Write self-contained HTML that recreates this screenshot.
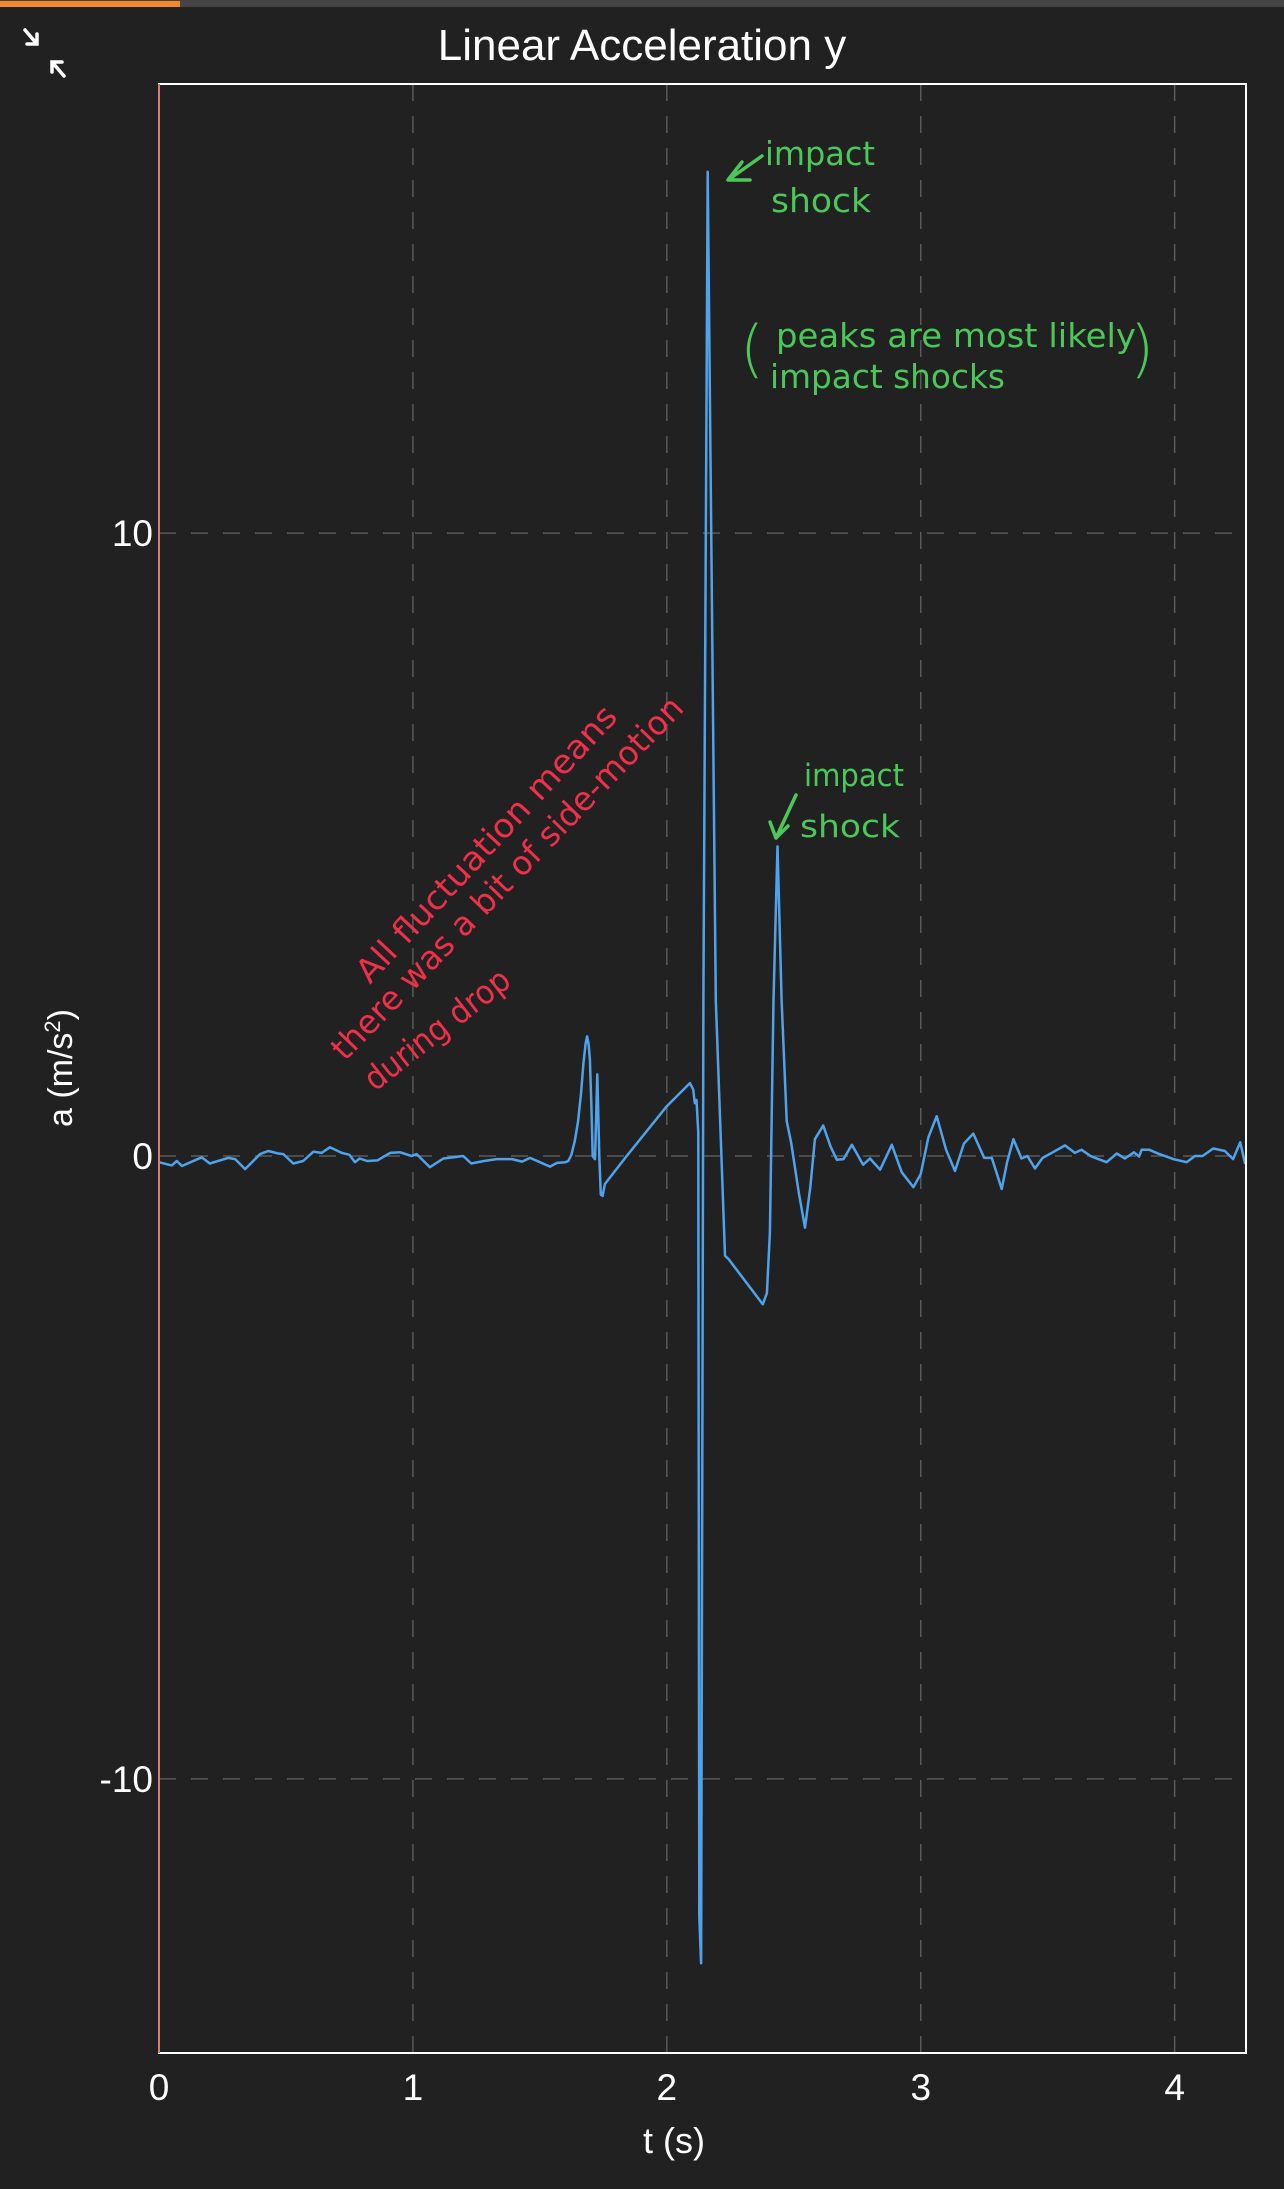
<!DOCTYPE html>
<html><head><meta charset="utf-8">
<style>
html,body{margin:0;padding:0;background:#212121;}
body{width:1284px;height:2189px;overflow:hidden;font-family:"Liberation Sans",sans-serif;}
svg{display:block;}
</style></head>
<body>
<svg id="chart" width="1284" height="2189" viewBox="0 0 1284 2189" xmlns="http://www.w3.org/2000/svg">
  <rect x="0" y="0" width="1284" height="2189" fill="#212121"/>
  <rect x="0" y="0" width="1284" height="7" fill="#454545"/>
  <rect x="0" y="1" width="180" height="6" fill="#f08a2c"/>
  <g stroke="#ffffff" stroke-width="3.5" fill="none" stroke-linecap="round">
    <path d="M25 30 L37 44 M37 34 L37 44 L27 44"/>
    <path d="M64 76 L52 62 M52 72 L52 62 L62 62"/>
  </g>
  <text x="642" y="60" text-anchor="middle" font-size="44" fill="#ffffff">Linear Acceleration y</text>
  <g id="grid"></g>
  <g id="ticks"></g>
  <g id="series"></g>
  <rect x="159" y="84" width="1087" height="1969" fill="none" stroke="#ffffff" stroke-width="2"/>
  <line x1="159" y1="84" x2="159" y2="2053" stroke="#e07a6a" stroke-width="2"/>
  <text x="674" y="2153" text-anchor="middle" font-size="36" fill="#ffffff">t (s)</text>
  <text transform="translate(72,1068) rotate(-90)" text-anchor="middle" font-size="34" fill="#ffffff">a (m/s<tspan font-size="22" dy="-12">2</tspan><tspan dy="12">)</tspan></text>

  <g fill="#4cc85a" font-family="'DejaVu Sans','Liberation Sans',sans-serif">
    <path d="M762 156 L728 180 M728 180 L742 162 M728 180 L750 180" stroke="#4cc85a" stroke-width="3.5" fill="none" stroke-linecap="round"/>
    <text x="765" y="165" font-size="33" textLength="110" lengthAdjust="spacingAndGlyphs">impact</text>
    <text x="771" y="212" font-size="33" textLength="100" lengthAdjust="spacingAndGlyphs">shock</text>
  </g>
  <g fill="#4cc85a" font-family="'DejaVu Sans','Liberation Sans',sans-serif">
    <text x="740" y="370" font-size="62" font-weight="300">(</text>
    <text x="776" y="347" font-size="33" textLength="360" lengthAdjust="spacingAndGlyphs">peaks are most likely</text>
    <text x="1130" y="370" font-size="62" font-weight="300">)</text>
    <text x="770" y="388" font-size="33" textLength="235" lengthAdjust="spacingAndGlyphs">impact shocks</text>
  </g>
  <g fill="#4cc85a" font-family="'DejaVu Sans','Liberation Sans',sans-serif">
    <path d="M796 795 L776 838 M776 838 L770 822 M776 838 L788 826" stroke="#4cc85a" stroke-width="3.5" fill="none" stroke-linecap="round"/>
    <text x="804" y="786" font-size="31" textLength="100" lengthAdjust="spacingAndGlyphs">impact</text>
    <text x="800" y="837" font-size="31" textLength="100" lengthAdjust="spacingAndGlyphs">shock</text>
  </g>
  <g fill="#f0304a" font-family="'DejaVu Sans','Liberation Sans',sans-serif" font-size="33">
    <text transform="translate(370,985) rotate(-47)" textLength="365" lengthAdjust="spacingAndGlyphs">All fluctuation means</text>
    <text transform="translate(345,1062) rotate(-46)" textLength="490" lengthAdjust="spacingAndGlyphs">there was a bit of side-motion</text>
    <text transform="translate(375,1092) rotate(-38)" textLength="175" lengthAdjust="spacingAndGlyphs">during drop</text>
  </g>
</svg>
<script>
const tValues = [0,0.05,0.07,0.09,0.168,0.2,0.272,0.30,0.339,0.398,0.43,0.47,0.49,0.529,0.568,0.608,0.64,0.673,0.72,0.75,0.772,0.79,0.82,0.86,0.91,0.95,0.995,1.015,1.067,1.12,1.16,1.198,1.23,1.28,1.33,1.39,1.43,1.461,1.50,1.54,1.567,1.60,1.612,1.624,1.638,1.65,1.662,1.672,1.68,1.686,1.692,1.697,1.703,1.708,1.717,1.726,1.734,1.74,1.747,1.756,1.842,2.0,2.091,2.104,2.11,2.117,2.124,2.128,2.135,2.144,2.161,2.193,2.229,2.244,2.378,2.394,2.406,2.42,2.436,2.452,2.472,2.49,2.52,2.544,2.565,2.583,2.616,2.645,2.67,2.696,2.729,2.773,2.80,2.84,2.886,2.925,2.971,3.0,3.03,3.063,3.1,3.135,3.17,3.207,3.25,3.28,3.319,3.34,3.365,3.397,3.42,3.45,3.48,3.52,3.568,3.607,3.633,3.673,3.732,3.772,3.804,3.84,3.86,3.87,3.90,3.94,3.995,4.047,4.08,4.11,4.152,4.198,4.23,4.258,4.278];
const aValues = [-0.1,-0.15,-0.08,-0.16,-0.02,-0.12,-0.03,-0.05,-0.21,0.03,0.08,0.04,0.03,-0.12,-0.08,0.07,0.05,0.14,0.05,0.02,-0.1,-0.04,-0.08,-0.07,0.05,0.06,0,0.03,-0.18,-0.04,-0.02,0,-0.12,-0.08,-0.05,-0.05,-0.09,-0.03,-0.1,-0.17,-0.11,-0.1,-0.08,0.02,0.25,0.55,1.0,1.5,1.8,1.92,1.8,1.55,0.8,0,-0.05,1.31,0,-0.62,-0.64,-0.45,0,0.8,1.17,1.07,0.85,0.9,0.37,-12.2,-12.96,2.5,15.8,2.5,-1.6,-1.66,-2.38,-2.2,-1.23,2.5,4.97,2.5,0.56,0.21,-0.6,-1.15,-0.5,0.27,0.49,0.15,-0.06,-0.05,0.18,-0.14,-0.04,-0.22,0.18,-0.26,-0.5,-0.29,0.3,0.64,0.1,-0.24,0.2,0.36,-0.03,-0.03,-0.53,-0.1,0.27,-0.04,0,-0.2,-0.03,0.06,0.17,0.05,0.1,-0.01,-0.1,0.04,-0.04,0.06,-0.01,0.1,0.1,0.03,-0.05,-0.1,0,0,0.12,0.08,-0.05,0.22,-0.13];
const xTicks = [0,1,2,3,4];
const yTicks = [10,0,-10];
const xTickLabels = ["0","1","2","3","4"];
const yTickLabels = ["10","0","-10"];

const NS = "http://www.w3.org/2000/svg";
const PL = 159, PR = 1246, PT = 84, PB = 2053;
const X0 = 0, X1 = 4.281, Y0 = -14.4, Y1 = 17.21;
function xScale(v){ return PL + (v - X0) / (X1 - X0) * (PR - PL); }
function yScale(v){ return PB - (v - Y0) / (Y1 - Y0) * (PB - PT); }

const grid = document.getElementById('grid');
const ticks = document.getElementById('ticks');
xTicks.forEach((v, i) => {
  const x = xScale(v);
  if (v > X0) {
    const l = document.createElementNS(NS, 'line');
    
    
    l.setAttribute('x1', x); l.setAttribute('x2', x);
    l.setAttribute('y1', PT); l.setAttribute('y2', PB);
    l.setAttribute('stroke', '#5a5a5a'); l.setAttribute('stroke-width', '1.5');
    l.setAttribute('stroke-dasharray', '17 15');
    grid.appendChild(l);
  }
  const t = document.createElementNS(NS, 'text');
  
  
  t.setAttribute('x', x); t.setAttribute('y', 2100);
  t.setAttribute('text-anchor', 'middle'); t.setAttribute('font-size', '37');
  t.setAttribute('fill', '#ffffff');
  t.textContent = xTickLabels[i];
  ticks.appendChild(t);
});
yTicks.forEach((v, i) => {
  const y = yScale(v);
  const l = document.createElementNS(NS, 'line');
  
  
  l.setAttribute('x1', PL); l.setAttribute('x2', PR);
  l.setAttribute('y1', y); l.setAttribute('y2', y);
  l.setAttribute('stroke', '#5a5a5a'); l.setAttribute('stroke-width', '1.5');
  l.setAttribute('stroke-dasharray', '17 15');
  grid.appendChild(l);
  const t = document.createElementNS(NS, 'text');
  
  
  t.setAttribute('x', 153); t.setAttribute('y', y + 13);
  t.setAttribute('text-anchor', 'end'); t.setAttribute('font-size', '37');
  t.setAttribute('fill', '#ffffff');
  t.textContent = yTickLabels[i];
  ticks.appendChild(t);
});

const series = document.getElementById('series');
let d = '';
tValues.forEach((tv, i) => {
  d += (i ? ' L' : 'M') + xScale(tv).toFixed(1) + ' ' + yScale(aValues[i]).toFixed(1);
});
const p = document.createElementNS(NS, 'path');


p.setAttribute('d', d);
p.setAttribute('fill', 'none');
p.setAttribute('stroke', '#4fa3ec');
p.setAttribute('stroke-width', '2.5');
p.setAttribute('stroke-linejoin', 'round');
series.appendChild(p);
</script>
</body></html>
